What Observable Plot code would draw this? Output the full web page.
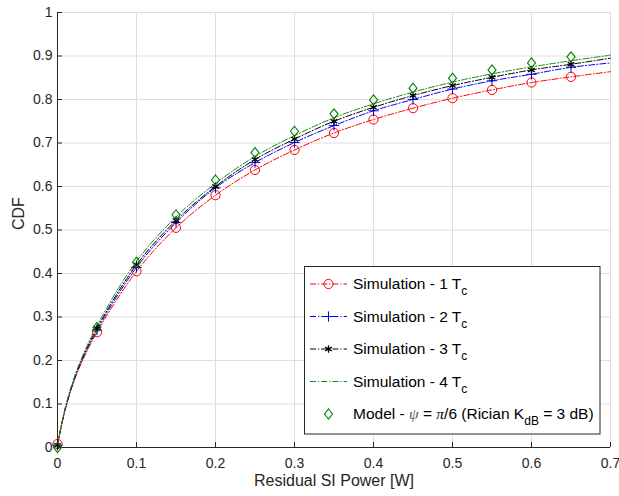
<!DOCTYPE html>
<html><head><meta charset="utf-8">
<script src="https://cdn.jsdelivr.net/npm/d3@7"></script>
<script src="https://cdn.jsdelivr.net/npm/@observablehq/plot@0.6"></script>
<style>
body{margin:0;background:#fff}
svg{font-family:Arial,"Liberation Sans",sans-serif}
</style>
</head><body><div id="chart"></div>
<script>
// x positions (W) of the simulation curves
const xs = [0, 0.01, 0.025, 0.05, 0.1, 0.15, 0.2, 0.25, 0.3, 0.35, 0.4, 0.45, 0.5, 0.55, 0.6, 0.65, 0.7];
// simulation CDFs
const sim1 = [0.008, 0.088, 0.172, 0.265, 0.405, 0.505, 0.580, 0.638, 0.684, 0.723, 0.754, 0.780, 0.803, 0.822, 0.839, 0.852, 0.864];
const sim2 = [0.005, 0.090, 0.175, 0.270, 0.414, 0.517, 0.597, 0.655, 0.701, 0.740, 0.774, 0.800, 0.824, 0.843, 0.858, 0.874, 0.884];
const sim3 = [0.005, 0.091, 0.177, 0.274, 0.420, 0.522, 0.600, 0.662, 0.709, 0.750, 0.782, 0.809, 0.832, 0.851, 0.868, 0.881, 0.895];
const sim4 = [0.005, 0.093, 0.180, 0.280, 0.428, 0.530, 0.607, 0.669, 0.717, 0.758, 0.790, 0.817, 0.840, 0.859, 0.875, 0.889, 0.902];
// marker positions (W) and model points
const markerX = [0, 0.05, 0.1, 0.15, 0.2, 0.25, 0.3, 0.35, 0.4, 0.45, 0.5, 0.55, 0.6, 0.65];
const model = [0.0, 0.276, 0.426, 0.535, 0.615, 0.678, 0.727, 0.767, 0.799, 0.826, 0.849, 0.868, 0.884, 0.898];

const xTicks = [0, 0.1, 0.2, 0.3, 0.4, 0.5, 0.6, 0.7];
const yTicks = [0, 0.1, 0.2, 0.3, 0.4, 0.5, 0.6, 0.7, 0.8, 0.9, 1];

const seriesColors = ["#ff0000", "#0000ff", "#000000", "#1a8c1a"];
const seriesSymbols = ["circle", "plus", "asterisk", null];
const seriesLabels = ["Simulation - 1 T", "Simulation - 2 T", "Simulation - 3 T", "Simulation - 4 T"];
const modelColor = "#008000";

const dash = "6,2,1.2,2";
const fmt = d => String(+d.toFixed(1));
const symR = {circle: 4.6, plus: 3.4, asterisk: 3.6};

// MATLAB-like diamond (slightly taller than wide)
const matDiamond = {
  draw(ctx, size) {
    const r = Math.sqrt(size / Math.PI);
    const h = r * 1.22, w = r * 0.98;
    ctx.moveTo(0, -h); ctx.lineTo(w, 0); ctx.lineTo(0, h); ctx.lineTo(-w, 0); ctx.closePath();
  }
};
const diamondR = 4.1;

const sims = [sim1, sim2, sim3, sim4];
const lineMarks = [];
const markMarks = [];
sims.forEach((s, i) => {
  const pts = s.map((v, j) => ({x: xs[j], y: v}));
  lineMarks.push(Plot.line(pts, {x: "x", y: "y", stroke: seriesColors[i], strokeWidth: 1, strokeDasharray: dash, curve: "catmull-rom"}));
  if (seriesSymbols[i]) {
    const mp = pts.filter(p => markerX.includes(p.x));
    markMarks.push(Plot.dot(mp, {x: "x", y: "y", symbol: seriesSymbols[i], r: symR[seriesSymbols[i]], stroke: seriesColors[i], fill: "none", strokeWidth: seriesSymbols[i] === "asterisk" ? 1.3 : 1}));
  }
});
const modelPts = model.map((v, j) => ({x: markerX[j], y: v}));

const plot = Plot.plot({
  width: 619, height: 496,
  marginLeft: 57, marginRight: 9, marginTop: 12, marginBottom: 49,
  style: {fontFamily: "Arial, 'Liberation Sans', sans-serif", fontSize: "14px", color: "#262626", background: "#fff"},
  x: {domain: [0, 0.7]},
  y: {domain: [0, 1]},
  marks: [
    Plot.gridX(xTicks, {stroke: "#dedede", strokeOpacity: 1, strokeWidth: 1}),
    Plot.gridY(yTicks, {stroke: "#dedede", strokeOpacity: 1, strokeWidth: 1}),
    Plot.axisX(xTicks, {tickSize: 0, tickPadding: 11, tickFormat: fmt, label: null, fontSize: 14, fill: "#262626"}),
    Plot.axisY(yTicks, {tickSize: 0, tickPadding: 5, tickFormat: fmt, label: null, fontSize: 14, fill: "#262626"}),
    Plot.ruleX([0], {stroke: "#262626"}),
    Plot.ruleY([0], {stroke: "#262626"}),
    Plot.tickX(xTicks, {x: d => d, insetTop: 430, stroke: "#262626"}),
    Plot.tickY(yTicks, {y: d => d, insetRight: 548, stroke: "#262626"}),
    ...lineMarks,
    ...markMarks,
    Plot.dot(modelPts, {x: "x", y: "y", symbol: matDiamond, r: diamondR, stroke: modelColor, fill: "none", strokeWidth: 1.1}),
    Plot.text(["Residual SI Power [W]"], {frameAnchor: "bottom", dy: 38, fontSize: 16, fill: "#262626"}),
    Plot.text(["CDF"], {frameAnchor: "left", dx: -39, rotate: -90, fontSize: 16, fill: "#262626"})
  ]
});
document.getElementById("chart").appendChild(plot);

// Legend
const svg = d3.select(plot);
const lg = svg.append("g").attr("text-anchor", "start").style("font-size", "15.5px");
lg.append("rect").attr("x", 304.5).attr("y", 266.5).attr("width", 295.5).attr("height", 167.5)
  .attr("fill", "#fff").attr("stroke", "#262626").attr("stroke-width", 1);
const rowY = [284, 316.5, 349, 381.5, 414];
const sym = {circle: d3.symbolCircle, plus: d3.symbolPlus, asterisk: d3.symbolAsterisk};
seriesLabels.forEach((lab, i) => {
  const y = rowY[i];
  lg.append("line").attr("x1", 310).attr("x2", 347).attr("y1", y).attr("y2", y)
    .attr("stroke", seriesColors[i]).attr("stroke-width", 1).attr("stroke-dasharray", dash);
  if (seriesSymbols[i]) {
    const r = symR[seriesSymbols[i]];
    lg.append("path").attr("transform", `translate(328.5,${y})`)
      .attr("d", d3.symbol(sym[seriesSymbols[i]], r * r * Math.PI)())
      .attr("fill", "none").attr("stroke", seriesColors[i]).attr("stroke-width", seriesSymbols[i] === "asterisk" ? 1.3 : 1);
  }
  const t = lg.append("text").attr("x", 353).attr("y", y + 5).attr("fill", "#000");
  t.append("tspan").text(lab);
  t.append("tspan").style("font-size", "12px").attr("dy", 6).text("c");
});
{
  const y = rowY[4];
  lg.append("path").attr("transform", `translate(328.5,${y})`)
    .attr("d", d3.symbol(matDiamond, diamondR * diamondR * Math.PI)())
    .attr("fill", "none").attr("stroke", modelColor).attr("stroke-width", 1.1);
  const t = lg.append("text").attr("x", 353).attr("y", y + 5).attr("fill", "#000");
  t.append("tspan").text("Model - ");
  t.append("tspan").attr("font-family", "'Liberation Serif','DejaVu Serif',serif").attr("font-style", "italic").attr("fill", "#555").text("ψ");
  t.append("tspan").text(" = ");
  t.append("tspan").attr("font-family", "'Liberation Serif','DejaVu Serif',serif").attr("font-style", "italic").text("π");
  t.append("tspan").text("/6 (Rician K");
  t.append("tspan").style("font-size", "12px").attr("dy", 6).text("dB");
  t.append("tspan").attr("dy", -6).text(" = 3 dB)");
}
</script>
</body></html>
